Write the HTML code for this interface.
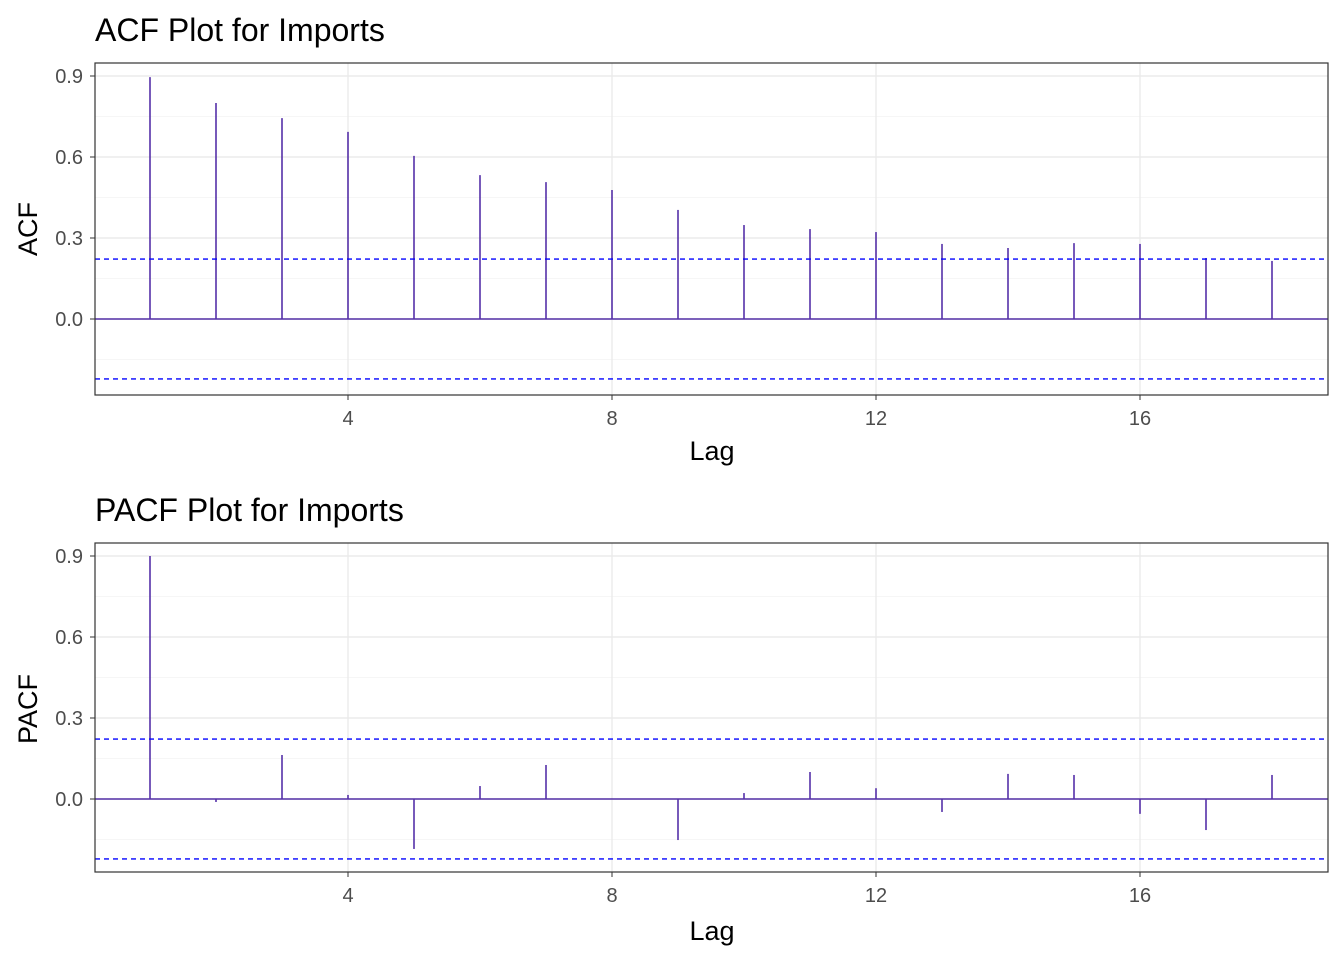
<!DOCTYPE html>
<html><head><meta charset="utf-8"><style>
body{margin:0;background:#fff;}
svg{display:block;font-family:"Liberation Sans",Arial,sans-serif;}
</style></head><body>
<svg id="chart" width="1344" height="960"></svg>
<script>
const lags = [1,2,3,4,5,6,7,8,9,10,11,12,13,14,15,16,17,18];
const acfValues = [0.896,0.80,0.744,0.693,0.604,0.533,0.507,0.478,0.404,0.348,0.333,0.322,0.278,0.263,0.281,0.278,0.226,0.215];
const pacfValues = [0.90,-0.011,0.163,0.015,-0.185,0.048,0.126,0.002,-0.152,0.022,0.10,0.04,-0.048,0.093,0.089,-0.055,-0.115,0.089];
const yTicks = [0,0.3,0.6,0.9];
const yMinor = [-0.15,0.15,0.45,0.75];
const xTicks = [4,8,12,16];
const confLimit = 0.222;
const NS='http://www.w3.org/2000/svg';
const svg=document.getElementById('chart');
function mk(tag,attrs,parent){const e=document.createElementNS(NS,tag);for(const k in attrs)e.setAttribute(k,attrs[k]);(parent||svg).appendChild(e);return e;}
function panel(offset,title,ylab,vals,name,bottom){
  const L=95,R=1328,T=63+offset,B=bottom;
  const xs=l=>150+(l-1)*66;
  const ys=v=>319+offset-v*270;
  const g=mk('g',{});
  
  
  yMinor.forEach(v=>mk('line',{x1:L,x2:R,y1:ys(v),y2:ys(v),stroke:'#f3f3f3','stroke-width':0.8},g));
  yTicks.forEach(v=>mk('line',{x1:L,x2:R,y1:ys(v),y2:ys(v),stroke:'#ebebeb','stroke-width':1.4},g));
  xTicks.forEach(v=>mk('line',{x1:xs(v),x2:xs(v),y1:T,y2:B,stroke:'#ebebeb','stroke-width':1.4},g));
  mk('line',{x1:L,x2:R,y1:ys(0),y2:ys(0),stroke:'#5530a8','stroke-width':1.6},g);
  lags.forEach((l,i)=>{const b=mk('line',{x1:xs(l),x2:xs(l),y1:ys(0),y2:ys(vals[i]),stroke:'#5530a8','stroke-width':1.6},g);
    
    });
  [confLimit,-confLimit].forEach(v=>{const c=mk('line',{x1:L,x2:R,y1:ys(v),y2:ys(v),stroke:'#0000ff','stroke-width':1.4,'stroke-dasharray':'5,4'},g);
    
    });
  mk('rect',{x:L,y:T,width:R-L,height:B-T,fill:'none',stroke:'#333','stroke-width':1.2},g);
  yTicks.forEach(v=>{mk('line',{x1:L-5,x2:L,y1:ys(v),y2:ys(v),stroke:'#333'},g);
    const t=mk('text',{x:L-12,y:ys(v)+7,'text-anchor':'end','font-size':20,fill:'#4d4d4d'},g);t.textContent=v.toFixed(1);});
  xTicks.forEach(v=>{mk('line',{x1:xs(v),x2:xs(v),y1:B,y2:B+5,stroke:'#333'},g);
    const t=mk('text',{x:xs(v),y:B+30,'text-anchor':'middle','font-size':20,fill:'#4d4d4d'},g);t.textContent=v;});
  const tt=mk('text',{x:95,y:41+offset,'font-size':32,fill:'#000'},g);tt.textContent=title;
  
  const xl=mk('text',{x:712,y:460+offset,'text-anchor':'middle','font-size':27,fill:'#000'},g);xl.textContent='Lag';
  
  const yl=mk('text',{x:0,y:0,'text-anchor':'middle','font-size':27,fill:'#000',transform:`translate(37,${229+offset}) rotate(-90)`},g);yl.textContent=ylab;
  
}
panel(0,'ACF Plot for Imports','ACF',acfValues,'acf',395);
panel(480,'PACF Plot for Imports','PACF',pacfValues,'pacf',872);
</script>
</body></html>
